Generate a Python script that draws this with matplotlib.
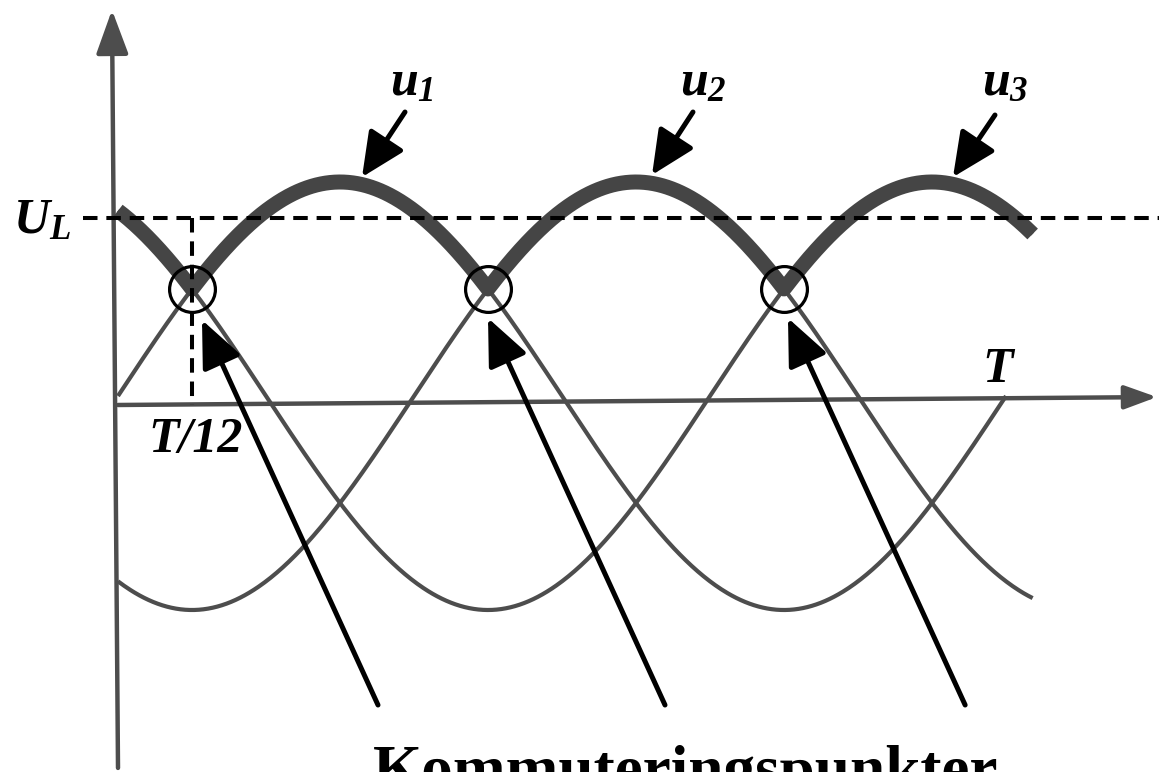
import numpy as np
import matplotlib.pyplot as plt

plt.rcParams['mathtext.fontset'] = 'custom'
plt.rcParams['mathtext.it'] = 'Liberation Serif:bold:italic'
plt.rcParams['mathtext.rm'] = 'Liberation Serif:bold:italic'
plt.rcParams['mathtext.bf'] = 'Liberation Serif:bold:italic'

# three phase voltages, time in periods T, voltage in amplitudes
phase_labels = [r'$u_1$', r'$u_2$', r'$u_3$']
phase_shift_deg = [0, 120, 240]
phase_end_t = [1.0, 1.03, 1.03]
envelope_end_t = 1.03
commutation_t = [1 / 12, 5 / 12, 9 / 12]
U_L = 0.83

curve_col = '#4d4d4d'
serif = 'Liberation Serif'

fig = plt.figure(figsize=(11.59, 7.72), dpi=100)
ax = fig.add_axes([0, 0, 1, 1])
ax.set_xlim(-118 / 888, 1041 / 888)
ax.set_ylim(-376 / 214, 396 / 214)
ax.axis('off')

# axes with arrows
ax.annotate('', xy=(-0.0068, 1.804), xytext=(0, -1.738),
            arrowprops=dict(arrowstyle='-|>,head_length=1.5,head_width=0.55',
                            mutation_scale=18, lw=3.2, color=curve_col,
                            shrinkA=0, shrinkB=0))
ax.annotate('', xy=(1.170, -0.005), xytext=(0, -0.042),
            arrowprops=dict(arrowstyle='-|>,head_length=1.1,head_width=0.4',
                            mutation_scale=18, lw=3.2, color=curve_col,
                            shrinkA=0, shrinkB=0))

# thin phase curves
curves = []
for shift, t_end in zip(phase_shift_deg, phase_end_t):
    t = np.linspace(0, t_end, 600)
    u = np.sin(2 * np.pi * t - np.deg2rad(shift))
    ax.plot(t, u, color=curve_col, lw=3.0, solid_capstyle='butt', zorder=2)

# thick envelope (max of the three)
t = np.linspace(0, envelope_end_t, 1200)
u_all = np.array([np.sin(2 * np.pi * t - np.deg2rad(s)) for s in phase_shift_deg])
ax.plot(t, u_all.max(axis=0), color='#454545', lw=10.8,
        solid_capstyle='butt', zorder=3)

# U_L level and T/12 marker
ax.plot([-0.0394, 1.172], [U_L, U_L], color='black', lw=2.9,
        dashes=(3.6, 2.2), zorder=4)
ax.plot([commutation_t[0], commutation_t[0]], [U_L, -0.042], color='black',
        lw=2.9, dashes=(3.6, 2.2), zorder=4)

# commutation circles
ax.plot(commutation_t, [0.5] * 3, 'o', ms=33, mfc='none', mec='black',
        mew=2.3, zorder=5)

# phase labels with arrows
label_pos = [(0.3063, 1.407), (0.6329, 1.407), (0.973, 1.407)]
arrow_tail = [(0.3232, 1.327), (0.6475, 1.327), (0.9876, 1.313)]
arrow_tip = [(0.2748, 1.023), (0.6014, 1.033), (0.9403, 1.023)]
for lab, lp, a0, a1 in zip(phase_labels, label_pos, arrow_tail, arrow_tip):
    ax.text(lp[0], lp[1], lab, fontsize=36, ha='left', va='baseline')
    ax.annotate('', xy=a1, xytext=a0,
                arrowprops=dict(arrowstyle='-|>,head_length=1.5,head_width=0.7',
                                mutation_scale=18, lw=3.6, color='black',
                                shrinkA=0, shrinkB=0))

# commutation point arrows
big_tail = [(0.2928, -1.444), (0.616, -1.444), (0.954, -1.444)]
big_tip = [(0.0946, 0.355), (0.4167, 0.364), (0.7545, 0.364)]
for a0, a1 in zip(big_tail, big_tip):
    ax.annotate('', xy=a1, xytext=a0,
                arrowprops=dict(arrowstyle='-|>,head_length=1.6,head_width=0.7',
                                mutation_scale=18, lw=3.6, color='black',
                                shrinkA=0, shrinkB=0), zorder=6)

ax.text(-0.1182, 0.762, r'$U_L$', fontsize=36, ha='left', va='baseline')
ax.text(0.0338, -0.262, 'T/12', fontsize=36, family=serif, weight='bold',
        style='italic', ha='left', va='baseline')
ax.text(0.991, 0.065, 'T', fontsize=36, family=serif, weight='bold',
        style='italic', ha='center', va='baseline')
ax.text(0.287, -1.836, 'Kommuteringspunkter', fontsize=45.5, family=serif,
        weight='bold', ha='left', va='baseline', clip_on=False)

plt.savefig('out.png', dpi=100)
